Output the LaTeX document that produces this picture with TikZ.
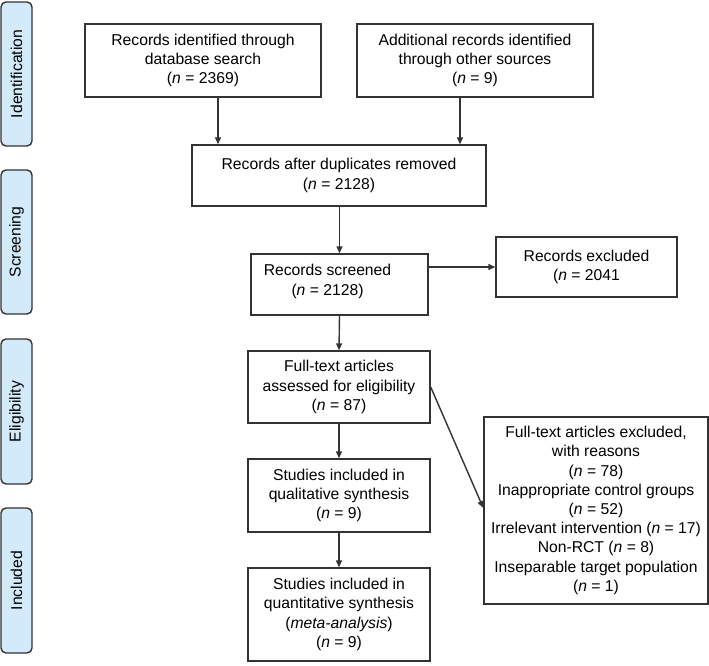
\documentclass[tikz,border=0pt]{standalone}
\usepackage{fontspec}
\setmainfont{Liberation Sans}
\usetikzlibrary{arrows.meta,calc}
\definecolor{edge}{HTML}{333333}
\definecolor{phase}{HTML}{D3EAFA}
\tikzset{
  box/.style={draw=edge, line width=1.4pt, fill=white, align=center, inner sep=2pt,
              font=\fontsize{15.7pt}{19.2pt}\selectfont, text=black},
  phasebox/.style={draw=edge, line width=1.4pt, fill=phase, rounded corners=5pt,
              minimum width=31pt, font=\fontsize{15.7pt}{19.2pt}\selectfont},
  phasetext/.style={rotate=90, font=\fontsize{15.7pt}{19.2pt}\selectfont},
  arr/.style={draw=edge, line width=1.4pt, -{Triangle[length=7pt,width=6pt]}}
}
\newcommand{\nn}{\textit{n}}
\begin{document}
\begin{tikzpicture}[x=1pt,y=-1pt]
\useasboundingbox (0,0) rectangle (709,666);
% phase labels
\node[phasebox, minimum height=144pt] (pid) at (16.5,74) {};
\node[phasetext] (tid) at (pid.center) {Identification};
\node[phasebox, minimum height=144pt] (psc) at (16.5,242) {};
\node[phasetext] (tsc) at (psc.center) {Screening};
\node[phasebox, minimum height=145pt] (pel) at (16.5,411.5) {};
\node[phasetext] (tel) at (pel.center) {Eligibility};
\node[phasebox, minimum height=145pt] (pin) at (16.5,580.5) {};
\node[phasetext] (tin) at (pin.center) {Included};
% boxes
\node[box, minimum width=236pt, minimum height=73pt] (b1) at (203,60.5)
  {Records identified through\\database search\\(\nn{} = 2369)};
\node[box, minimum width=236pt, minimum height=73pt] (b2) at (475,60.5)
  {Additional records identified\\through other sources\\(\nn{} = 9)};
\node[box, minimum width=294pt, minimum height=61pt] (b3) at (339,175.5)
  {Records after duplicates removed\\(\nn{} = 2128)};
\node[box, minimum width=177pt, minimum height=61pt,
  label={[xshift=-12pt, yshift=3pt, align=center, font=\fontsize{15.7pt}{19.2pt}\selectfont]center:Records screened\\(\nn{} = 2128)}] (b4) at (339.5,284.5) {};
\node[box, minimum width=181pt, minimum height=60pt] (b5) at (586.5,267)
  {Records excluded\\(\nn{} = 2041};
\node[box, minimum width=182pt, minimum height=72pt] (b6) at (339,387)
  {Full-text articles\\assessed for eligibility\\(\nn{} = 87)};
\node[box, minimum width=182pt, minimum height=73pt] (b7) at (339,495.5)
  {Studies included in\\qualitative synthesis\\(\nn{} = 9)};
\node[box, minimum width=182pt, minimum height=93pt] (b8) at (339,614.5)
  {Studies included in\\quantitative synthesis\\(\textit{meta-analysis})\\(\nn{} = 9)};
\node[box, minimum width=224pt, minimum height=187pt] (b9) at (596,510.5)
  {Full-text articles excluded,\\with reasons\\(\nn{} = 78)\\Inappropriate control groups\\(\nn{} = 52)\\Irrelevant intervention (\nn{} = 17)\\Non-RCT (\nn{} = 8)\\Inseparable target population\\(\nn{} = 1)};
% connectors
\draw[arr] ([xshift=15pt]b1.south) -- ([xshift=15pt]b1.south |- b3.north);
\draw[arr] ([xshift=-15pt]b2.south) -- ([xshift=-15pt]b2.south |- b3.north);
\draw[arr] (b4.north |- b3.south) -- (b4.north);
\draw[arr] (b4.east |- b5.west) -- (b5.west);
\draw[arr] (b4.south) -- (b6.north);
\draw[arr] (b6.south) -- (b7.north);
\draw[arr] (b7.south) -- (b8.north);
\draw[arr] (b6.east) -- ([yshift=2.5pt]b9.west);
\end{tikzpicture}
\end{document}
